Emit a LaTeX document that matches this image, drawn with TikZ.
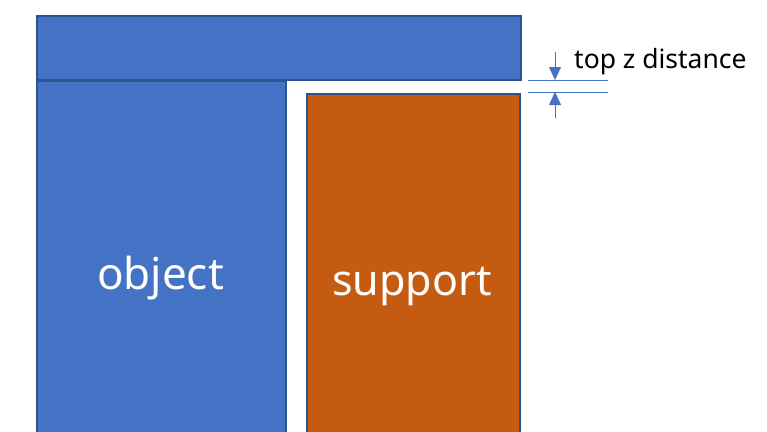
\documentclass[tikz,border=0pt]{standalone}
\usepackage{fontspec}
\setmainfont{Noto Sans}
\usetikzlibrary{arrows.meta}
\definecolor{objblue}{HTML}{4472C4}
\definecolor{edgeblue}{HTML}{2F528F}
\definecolor{suporange}{HTML}{C55A11}
\tikzset{
  block/.style={draw=edgeblue, line width=2pt, anchor=north west, inner sep=0pt},
  dimline/.style={draw=objblue, line width=0.8pt},
  dimarrow/.style={draw=objblue, line width=0.8pt, -{Triangle[length=13pt,width=12pt]}}
}

\begin{document}
\begin{tikzpicture}[x=1pt,y=-1pt]
        \useasboundingbox (0,0) rectangle (767,431);
        \node[block, fill=objblue, minimum width=249pt, minimum height=386pt] (object) at (36,80) {};
        \node[block, fill=suporange, minimum width=213pt, minimum height=376pt] (support) at (306,93) {};
        \node[block, fill=objblue, minimum width=484pt, minimum height=64pt] (top) at (36,15) {};
        \node[anchor=base, text=white, font=\fontsize{44}{50}\selectfont] (objlabel) at (160.5,289) {object};
        \node[anchor=base, text=white, font=\fontsize{43}{50}\selectfont] (suplabel) at (412,295) {support};
        % top z distance
        \coordinate (d1) at (528,80);
        \coordinate (d2) at (528,92);
        \draw[dimline] (d1) -- ++(80,0);
        \draw[dimline] (d2) -- ++(80,0);
        \coordinate (a1) at (555,52);
        \coordinate (a2) at (555,118);
        \draw[dimarrow] (a1) -- (d1 -| a1);
        \draw[dimarrow] (a2) -- (d2 -| a2);
        \node[anchor=base west, inner sep=0pt, font=\fontsize{26.5}{31}\selectfont] (dist) at (574,68) {top z distance};
\end{tikzpicture}
\end{document}
